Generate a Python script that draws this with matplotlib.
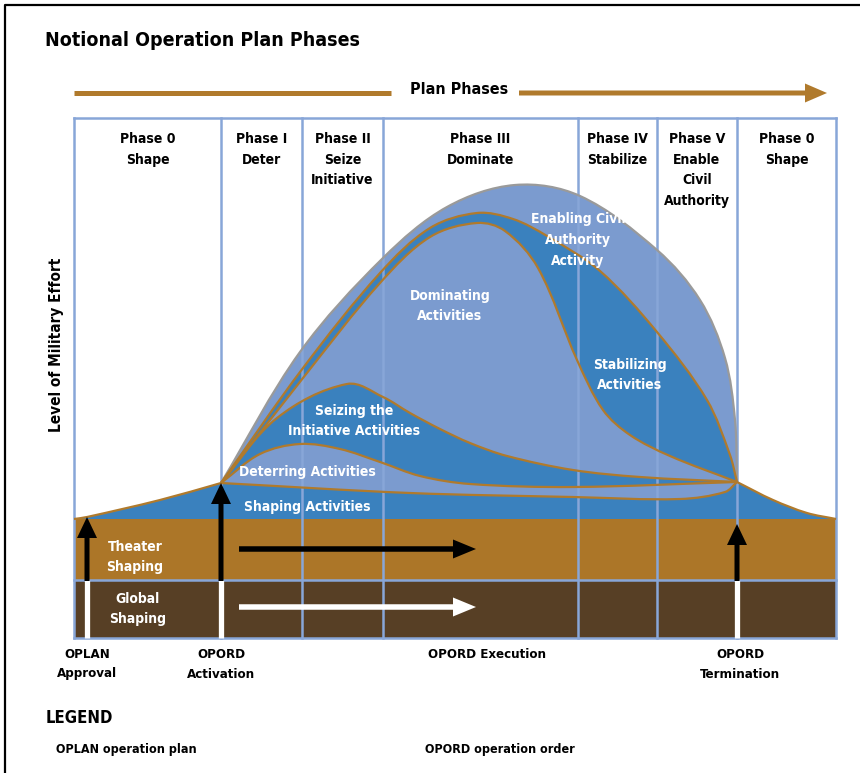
import numpy as np
import matplotlib.pyplot as plt
from matplotlib.path import Path
from matplotlib.patches import PathPatch, FancyArrow

# Font: narrow bold look
plt.rcParams['font.family'] = ['DejaVu Sans']
plt.rcParams['font.stretch'] = 'condensed'
plt.rcParams['font.weight'] = 'bold'

# Colours
LIGHT = '#7B9BCF'
MID = '#3A81BE'
THEATER = '#AC7628'
GLOBAL = '#573F25'
BROWN = '#B07A2C'
GRAY = '#9A9A9A'
GRID = '#88A6D8'

# Phase columns (pixel layout of the diagram)
phase_edges = [74, 221, 302, 383, 578, 657, 737, 836]
phase_names = ["Phase 0\nShape", "Phase I\nDeter", "Phase II\nSeize\nInitiative",
               "Phase III\nDominate", "Phase IV\nStabilize",
               "Phase V\nEnable\nCivil\nAuthority", "Phase 0\nShape"]

# Effort curves, points (x px, y px; y grows downwards)
outer_curve = [(221, 483), (300, 352), (383, 258), (447, 207), (515, 185), (580, 196),
               (657, 250), (700, 300), (725, 358), (735, 420), (737, 482)]
stab_curve = [(221, 483), (303, 368), (380, 273), (430, 228), (477, 213), (513, 219),
              (547, 236), (600, 271), (657, 332), (707, 400), (730, 455), (737, 482)]
dom_curve = [(221, 483), (303, 378), (380, 283), (430, 237), (477, 223), (505, 231),
             (538, 268), (577, 360), (603, 410), (630, 435), (670, 456), (737, 482)]
seize_curve = [(221, 483), (277, 418), (347, 384), (383, 397), (410, 413), (440, 429),
               (470, 443), (507, 456), (573, 470), (640, 477), (737, 482)]
deter_curve = [(221, 483), (260, 454), (300, 444), (340, 449), (380, 462), (420, 476),
               (470, 484), (573, 487), (737, 482)]
low_curve = [(221, 483), (410, 493), (573, 497), (680, 499), (725, 492), (737, 482)]
left_profile = [(74, 519), (87, 517), (160, 500), (221, 483)]
right_profile = [(737, 482), (773, 500), (807, 513), (836, 519)]

band_top, band_mid, band_bot = 519, 580, 638


def bez(pts):
    # smooth cubic Bezier through the points, tangents from neighbours
    pts = np.asarray(pts, float)
    n = len(pts)
    tang = []
    for i in range(n):
        a = pts[max(i - 1, 0)]
        b = pts[min(i + 1, n - 1)]
        d = b - a
        tang.append(d / np.hypot(*d))
    out = [pts[0]]
    for i in range(n - 1):
        p1, p2 = pts[i], pts[i + 1]
        L = np.hypot(*(p2 - p1)) / 3
        out += [p1 + tang[i] * L, p2 - tang[i + 1] * L, p2]
    return np.array(out)


def open_path(pts):
    v = bez(pts)
    return Path(v, [Path.MOVETO] + [Path.CURVE4] * (len(v) - 1))


def lens_path(upper, lower):
    v = np.vstack([bez(upper), bez(lower)[::-1][1:], [[0, 0]]])
    codes = [Path.MOVETO] + [Path.CURVE4] * (len(v) - 2) + [Path.CLOSEPOLY]
    return Path(v, codes)


fig = plt.figure(figsize=(8.6, 7.73), dpi=100)
ax = fig.add_axes([0, 0, 1, 1])
ax.set_xlim(0, 860)
ax.set_ylim(773, 0)
ax.axis('off')

# frame
ax.plot([5, 5, 860], [773, 5, 5], color='black', lw=1.6, solid_capstyle='butt')

ax.text(45, 40, "Notional Operation Plan Phases", fontsize=14, va='center', ha='left')

# Plan Phases arrow
ax.plot([74, 391], [93, 93], color=BROWN, lw=3.6, solid_capstyle='butt')
ax.add_patch(FancyArrow(519, 93, 308, 0, width=5, head_width=19, head_length=22,
                        length_includes_head=True, color=BROWN, lw=0))
ax.text(459, 89, "Plan Phases", fontsize=11.5, ha='center', va='center')

# base mid-blue area
vb = np.vstack([bez(left_profile), bez(outer_curve)[1:], bez(right_profile)[1:],
                [[836, 521], [74, 521], [0, 0]]])
cb = ([Path.MOVETO] + [Path.CURVE4] * (len(vb) - 4) +
      [Path.LINETO, Path.LINETO, Path.CLOSEPOLY])
ax.add_patch(PathPatch(Path(vb, cb), fc=MID, ec='none', zorder=1))

# stacked lenses
layers = [(outer_curve, LIGHT), (stab_curve, MID), (dom_curve, LIGHT),
          (seize_curve, MID), (deter_curve, LIGHT)]
for i, (crv, col) in enumerate(layers):
    ax.add_patch(PathPatch(lens_path(crv, low_curve), fc=col, ec='none', zorder=2 + i))

# bands
ax.fill_between([74, 836], band_top, band_mid, color=THEATER, lw=0, zorder=2)
ax.fill_between([74, 836], band_mid, band_bot, color=GLOBAL, lw=0, zorder=2)

# grid
for x in phase_edges:
    ax.plot([x, x], [118, band_bot], color=GRID, lw=1.8, zorder=8)
for y in [118, band_mid, band_bot]:
    ax.plot([74, 836], [y, y], color=GRID, lw=1.8, zorder=8)

# outlines
ax.add_patch(PathPatch(open_path(outer_curve), fc='none', ec=GRAY, lw=1.6, zorder=9))
for crv in [stab_curve, dom_curve, seize_curve, deter_curve, low_curve,
            left_profile, right_profile]:
    ax.add_patch(PathPatch(open_path(crv), fc='none', ec=BROWN, lw=1.6, zorder=9))

# milestone arrows
for x, tip in [(87, 517), (221, 483), (737, 524)]:
    ax.plot([x, x], [band_mid, band_bot], color='white', lw=3.8,
            solid_capstyle='butt', zorder=10)
    ax.add_patch(FancyArrow(x, band_mid + 1, 0, tip - band_mid - 1, width=5,
                            head_width=20, head_length=21, length_includes_head=True,
                            color='black', lw=0, zorder=10))
ax.add_patch(FancyArrow(239, 549, 237, 0, width=5.5, head_width=19, head_length=23,
                        length_includes_head=True, color='black', lw=0, zorder=10))
ax.add_patch(FancyArrow(239, 607, 237, 0, width=5.5, head_width=19, head_length=23,
                        length_includes_head=True, color='white', lw=0, zorder=10))

# phase headers
for i, name in enumerate(phase_names):
    cx = (phase_edges[i] + phase_edges[i + 1]) / 2
    ax.text(cx, 132, name, fontsize=10, ha='center', va='top', linespacing=1.6,
            zorder=11)

# activity labels
wl = dict(color='white', fontsize=10, ha='center', va='center', linespacing=1.6,
          zorder=11)
ax.text(578, 240, "Enabling Civil\nAuthority\nActivity", **wl)
ax.text(450, 306, "Dominating\nActivities", **wl)
ax.text(630, 375, "Stabilizing\nActivities", **wl)
ax.text(354, 421, "Seizing the\nInitiative Activities", **wl)
ax.text(307, 472, "Deterring Activities", **wl)
ax.text(307, 507, "Shaping Activities", **wl)
ax.text(135, 557, "Theater\nShaping", **wl)
ax.text(138, 609, "Global\nShaping", **wl)

ax.text(57, 345, "Level of Military Effort", fontsize=11, rotation=90,
        ha='center', va='center')

# milestone labels
bl = dict(fontsize=9.5, ha='center', va='top', linespacing=1.65)
ax.text(87, 648, "OPLAN\nApproval", **bl)
ax.text(221, 648, "OPORD\nActivation", **bl)
ax.text(487, 648, "OPORD Execution", **bl)
ax.text(740, 648, "OPORD\nTermination", **bl)

ax.text(46, 718, "LEGEND", fontsize=12, ha='left', va='center')
ax.text(56, 749, "OPLAN operation plan", fontsize=9, ha='left', va='center')
ax.text(425, 749, "OPORD operation order", fontsize=9, ha='left', va='center')

fig.savefig('out.png', dpi=100)
